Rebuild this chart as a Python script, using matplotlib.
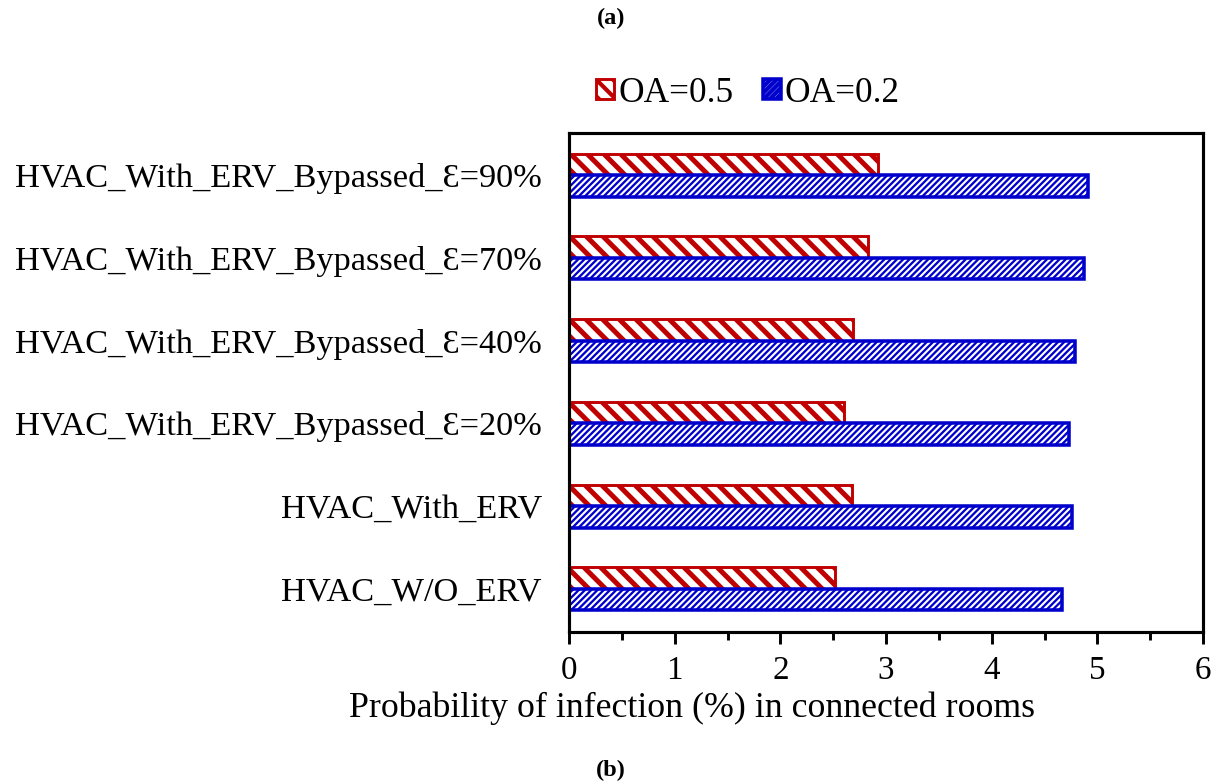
import matplotlib
matplotlib.use("Agg")
import matplotlib.pyplot as plt
from matplotlib.ticker import MultipleLocator
import numpy as np

categories = ["HVAC_W/O_ERV", "HVAC_With_ERV",
              "HVAC_With_ERV_Bypassed_\u0190=20%",
              "HVAC_With_ERV_Bypassed_\u0190=40%",
              "HVAC_With_ERV_Bypassed_\u0190=70%",
              "HVAC_With_ERV_Bypassed_\u0190=90%"]
oa05 = [2.52, 2.68, 2.60, 2.69, 2.83, 2.92]
oa02 = [4.67, 4.76, 4.73, 4.79, 4.87, 4.91]
series_labels = ["OA=0.5", "OA=0.2"]
xticks = [0, 1, 2, 3, 4, 5, 6]

plt.rcParams['font.family'] = ['Liberation Serif', 'DejaVu Serif']
plt.rcParams['hatch.linewidth'] = 2.0

DPI = 150
fig = plt.figure(figsize=(1222 / DPI, 783 / DPI), dpi=DPI)
ax = fig.add_axes([569 / 1222, 1 - 632 / 783, (1203 - 569) / 1222, (632 - 133) / 783])

red = '#C00000'
blue = '#0000CC'
y = np.arange(len(categories))
h = 0.26
b1 = ax.barh(y + h / 2, oa05, height=h, facecolor='white', edgecolor=red,
             hatch='\\\\\\', linewidth=1.4, label=series_labels[0])
b2 = ax.barh(y - h / 2, oa02, height=h, facecolor='white', edgecolor=blue,
             hatch='////////', linewidth=1.7, label=series_labels[1])
for p in b1:
    try:
        p.set_hatch_linewidth(2.4)
    except Exception:
        pass
for p in b2:
    try:
        p.set_hatch_linewidth(1.1)
    except Exception:
        pass

ax.set_xlim(0, 6)
ax.set_ylim(-0.52, 5.51)
ax.set_xticks(xticks)
ax.xaxis.set_minor_locator(MultipleLocator(0.5))
ax.set_yticks(y)
ax.set_yticklabels(categories)
ax.tick_params(axis='x', which='major', direction='out', length=5.6, width=1.4,
               labelsize=15.9, pad=5.6)
ax.tick_params(axis='x', which='minor', direction='out', length=3.7, width=1.4)
ax.tick_params(axis='y', length=0, labelsize=16.5, pad=13)
for s in ax.spines.values():
    s.set_linewidth(1.5)
    s.set_color('black')

fig.text(692 / 1222, 1 - 708 / 783, "Probability of infection (%) in connected rooms",
         ha='center', va='center', fontsize=17.2)
fig.text(0.5, 1 - 18 / 783, "(a)", ha='center', va='center', fontsize=11.7, fontweight='bold')
fig.text(0.5, 1 - 770 / 783, "(b)", ha='center', va='center', fontsize=11.7, fontweight='bold')

leg = fig.legend(handles=[b1, b2], labels=series_labels, loc='center',
                 bbox_to_anchor=(748 / 1222, 1 - 93 / 783), ncol=2, frameon=False,
                 fontsize=16.9, handlelength=0.51, handleheight=0.51, handletextpad=0.12,
                 columnspacing=0.83)

fig.savefig("out.png", dpi=DPI)
